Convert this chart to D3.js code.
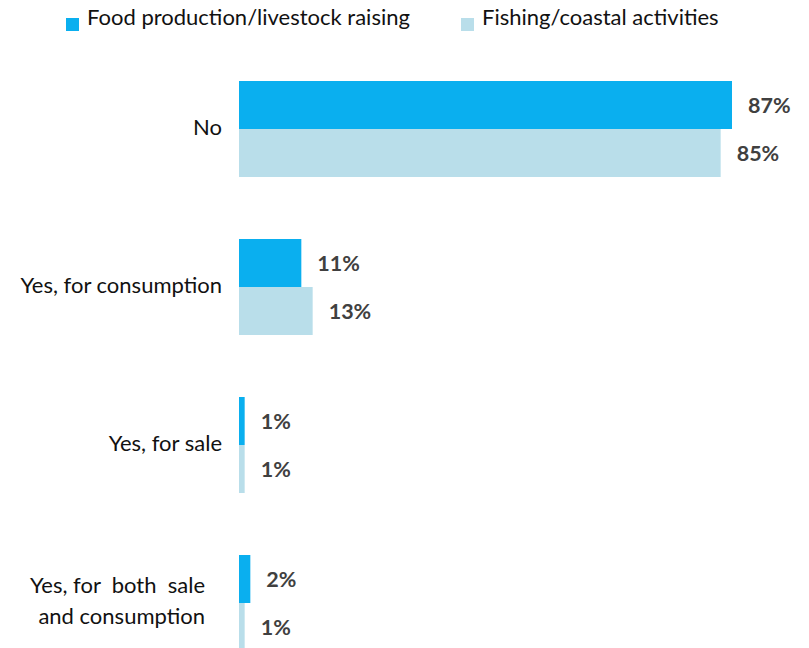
<!DOCTYPE html>
<html>
<head>
<meta charset="utf-8">
<script src="https://cdn.jsdelivr.net/npm/d3@7"></script>
<style>
  html, body { margin: 0; padding: 0; background: #fff; }
  svg { display: block; }
</style>
</head>
<body>
<svg id="chart" width="809" height="648"></svg>
<script>
// Categories (each may wrap onto several lines)
const categories = [
  ["No"],
  ["Yes, for consumption"],
  ["Yes, for sale"],
  ["Yes, for  both  sale", "and consumption"]
];
const seriesNames = ["Food production/livestock raising", "Fishing/coastal activities"];
const foodValues = [87, 11, 1, 2];
const fishingValues = [85, 13, 1, 1];
const colors = ["#0AAFEF", "#B9DEEA"];

const svg = d3.select("#chart");
const font = "Lato, 'Open Sans', sans-serif";

const x = d3.scaleLinear().domain([0, 87]).range([239, 732]);
const y = d3.scaleBand().domain(d3.range(categories.length)).range([81, 651]).paddingInner(0.3924).paddingOuter(0);
const inner = d3.scaleBand().domain([0, 1]).range([0, y.bandwidth()]);

const series = [foodValues, fishingValues];

// Bars
series.forEach((vals, s) => {
  svg.append("g").selectAll("rect")
    .data(vals)
    .join("rect")
    .attr("x", x(0))
    .attr("y", (d, i) => y(i) + inner(s))
    .attr("width", d => x(d) - x(0))
    .attr("height", inner.bandwidth())
    .attr("fill", colors[s]);

  // Value labels
  svg.append("g").selectAll("text")
    .data(vals)
    .join("text")
    .attr("x", d => x(d) + 16)
    .attr("y", (d, i) => y(i) + inner(s) + inner.bandwidth() / 2)
    .attr("dy", "0.35em")
    .attr("font-family", font)
    .attr("font-weight", "bold")
    .attr("font-size", 21.5)
    .attr("fill", "#404040")
    .text(d => d + "%");
});

// Category labels
const catG = svg.append("g");
categories.forEach((lines, i) => {
  const cy = y(i) + y.bandwidth() / 2;
  const lh = 31;
  const t = catG.append("text")
    .attr("x", 222)
    .attr("text-anchor", "end")
    .attr("font-family", font)
    .attr("font-size", 22)
    .attr("fill", "#111");
  lines.forEach((line, k) => {
    t.append("tspan")
      .attr("x", lines.length > 1 ? 205 : 222)
      .attr("y", cy + (k - (lines.length - 1) / 2) * lh - 2)
      .attr("dy", "0.35em")
      .style("white-space", "pre")
      .text(line);
  });
});

// Legend
const legendX = [66, 461];
seriesNames.forEach((name, s) => {
  const g = svg.append("g").attr("transform", `translate(${legendX[s]},0)`);
  g.append("rect").attr("x", 0).attr("y", 18).attr("width", 13).attr("height", 13).attr("fill", colors[s]);
  g.append("text")
    .attr("x", 21).attr("y", 25)
    .attr("font-family", font)
    .attr("font-size", 22)
    .attr("fill", "#111")
    .text(name);
});
</script>
</body>
</html>
